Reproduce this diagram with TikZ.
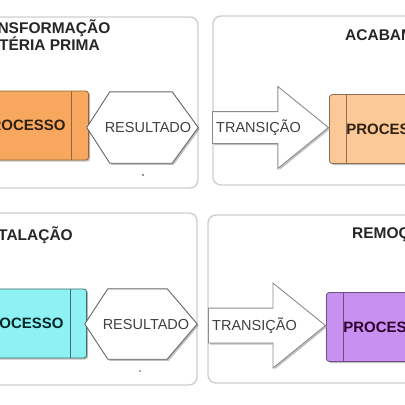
\documentclass[tikz,border=0pt]{standalone}
\usepackage{fontspec}
\setmainfont{Liberation Sans}
\usetikzlibrary{shapes.arrows,shadows}

\definecolor{laranja}{HTML}{F8A85E}
\definecolor{laranjaclaro}{HTML}{FBC898}
\definecolor{ciano}{HTML}{8EF2F5}
\definecolor{lilas}{HTML}{C890F0}
\definecolor{moldura}{HTML}{CFCFCF}

\begin{document}
\begin{tikzpicture}[
  x=1pt,y=-1pt,
  font=\fontsize{14.5}{16}\selectfont,
  panel/.style={rectangle,draw=moldura,line width=1.4pt,rounded corners=8pt,fill=white},
  titulo/.style={font=\fontsize{15.5}{17}\selectfont\bfseries,text=black!85,inner sep=0pt,align=center},
  proc/.style={rectangle,rounded corners=3pt,line width=0.8pt,minimum height=69pt,
    text width=100pt,inner ysep=0pt,font=\fontsize{15}{17}\selectfont\bfseries,
    drop shadow={shadow xshift=1.6pt,shadow yshift=-1.6pt,fill=black!40,opacity=.6}},
  procesq/.style={proc,align=right,inner xsep=23pt},
  procdir/.style={proc,align=left,inner xsep=17pt},
  div/.style={line width=0.8pt},
  hexa/.style={draw=black!60,line width=0.9pt,fill=white,
    drop shadow={shadow xshift=1.6pt,shadow yshift=-1.6pt,fill=black!40,opacity=.6}},
  rotulo/.style={text=black!75,inner sep=0pt},
  trans/.style={single arrow,draw=black!45,line width=0.9pt,fill=white,inner xsep=0pt,
    inner ysep=15.5pt,single arrow head extend=25pt,single arrow tip angle=78,
    minimum height=116pt,
    drop shadow={shadow xshift=1.6pt,shadow yshift=-1.6pt,fill=black!40,opacity=.6}}
]
\useasboundingbox (0,0) rectangle (405,405);
\clip (0,0) rectangle (405,405);

% paineis
\node[panel,minimum width=210pt,minimum height=171pt] (pn1) at (93,102.5) {};
\node[panel,minimum width=207pt,minimum height=169pt] (pn2) at (316.5,100.5) {};
\node[panel,minimum width=209pt,minimum height=172pt] (pn3) at (92.5,299) {};
\node[panel,minimum width=212pt,minimum height=168pt] (pn4) at (314,299) {};

\node[titulo] (tt1) at (38,35) {TRANSFORMAÇÃO\\MATÉRIA PRIMA};
\node[titulo,anchor=west] (tt2) at (345,35) {ACABAMENTO};
\node[titulo,anchor=east] (tt3) at (73,235) {INSTALAÇÃO};
\node[titulo,anchor=west] (tt4) at (352,233) {REMOÇÃO};

% processos
\node[procesq,fill=laranja,draw=laranja!60!black,text=black!75!brown,anchor=east] (p1) at (89,125.5) {PROCESSO};
\draw[div,draw=laranja!60!black] ([xshift=-18pt]p1.north east) -- ([xshift=-18pt]p1.south east);

\node[procdir,fill=laranjaclaro,draw=laranjaclaro!55!black,text=black!75!brown,anchor=west] (p2) at (329,129) {PROCESSO};
\draw[div,draw=laranjaclaro!55!black] ([xshift=17pt]p2.north west) -- ([xshift=17pt]p2.south west);

\node[procesq,fill=ciano,draw=ciano!45!black,text=black!70!teal,anchor=east] (p3) at (87,323.5) {PROCESSO};
\draw[div,draw=ciano!45!black] ([xshift=-17pt]p3.north east) -- ([xshift=-17pt]p3.south east);

\node[procdir,fill=lilas,draw=lilas!55!black,text=black!65!violet,anchor=west] (p4) at (326,327) {PROCESSO};
\draw[div,draw=lilas!55!black] ([xshift=17pt]p4.north west) -- ([xshift=17pt]p4.south west);

% resultados
\node[minimum width=111pt,minimum height=71pt,inner sep=0pt] (r1) at (142.5,127.5) {};
\draw[hexa] (r1.west) -- ([xshift=23pt]r1.north west) -- ([xshift=-26pt]r1.north east)
  -- (r1.east) -- ([xshift=-26pt]r1.south east) -- ([xshift=23pt]r1.south west) -- cycle;
\node[rotulo] (tr1) at (148,128) {RESULTADO};
\node[circle,fill=black!55,inner sep=0.8pt] (d1) at (143,175) {};

\node[minimum width=112pt,minimum height=70pt,inner sep=0pt] (r2) at (141,324) {};
\draw[hexa] (r2.west) -- ([xshift=23pt]r2.north west) -- ([xshift=-30pt]r2.north east)
  -- (r2.east) -- ([xshift=-30pt]r2.south east) -- ([xshift=23pt]r2.south west) -- cycle;
\node[rotulo] (tr2) at (146,325) {RESULTADO};
\node[circle,fill=black!45,inner sep=0.8pt] (d2) at (140,371) {};

% transicoes
\node[trans,anchor=tail] (a1) at (212,127.5) {};
\node[rotulo,anchor=west] (ta1) at ([xshift=4pt]a1.tail) {TRANSIÇÃO};
\node[trans,anchor=tail,minimum height=117pt,inner ysep=17pt] (a2) at (208,325.5) {};
\node[rotulo,anchor=west] (ta2) at ([xshift=4pt]a2.tail) {TRANSIÇÃO};

\end{tikzpicture}
\end{document}
